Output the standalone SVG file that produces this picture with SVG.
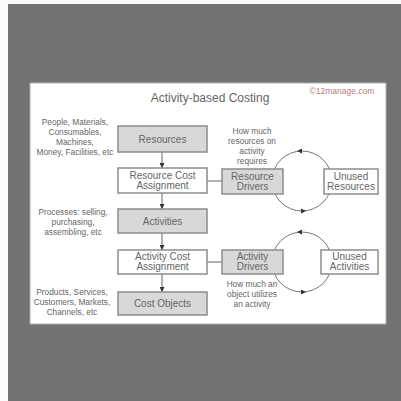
<svg xmlns="http://www.w3.org/2000/svg" width="401" height="401" viewBox="0 0 401 401">
<defs>
<marker id="ah" viewBox="0 0 10 10" refX="10" refY="5" markerWidth="5" markerHeight="5" orient="auto" markerUnits="userSpaceOnUse">
<path d="M0,0 L10,5 L0,10 Z" fill="#333"/>
</marker>
</defs>
<style>
.bg{fill:#737373}
.card{fill:#fff;stroke:#b0b0b0;stroke-width:1}
.gbox{fill:#d8d8d8;stroke:#8c8c8c;stroke-width:1.5}
.wbox{fill:#fff;stroke:#8c8c8c;stroke-width:1.5}
.bt{font-family:"Liberation Sans",Arial,sans-serif;font-size:10px;fill:#666;text-anchor:middle}
.note{font-family:"Liberation Sans",Arial,sans-serif;font-size:8.3px;fill:#666;text-anchor:middle}
.title{font-family:"Liberation Sans",Arial,sans-serif;font-size:12px;fill:#666;text-anchor:middle}
.copy{font-family:"Liberation Sans",Arial,sans-serif;font-size:8.5px;fill:#b88080;text-anchor:middle}
.ln{stroke:#666;stroke-width:1;fill:none}
.cir{stroke:#777;stroke-width:1;fill:none}
.tip{fill:#333}
</style>
<rect width="401" height="401" fill="#fafafa"/>
<rect class="bg" x="8" y="4" width="393" height="397"/>
<rect class="card" x="30" y="83" width="356" height="241"/>
<text class="title" x="210" y="102">Activity-based Costing</text>
<text class="copy" x="342" y="94">©12manage.com</text>

<g id="notes">
<text class="note" x="75" y="125">People, Materials,</text>
<text class="note" x="75" y="135">Consumables,</text>
<text class="note" x="75" y="145">Machines,</text>
<text class="note" x="75" y="155">Money, Facilities, etc</text>
<text class="note" x="73" y="215">Processes: selling,</text>
<text class="note" x="73" y="225">purchasing,</text>
<text class="note" x="73" y="235">assembling, etc</text>
<text class="note" x="72" y="295">Products, Services,</text>
<text class="note" x="72" y="305">Customers, Markets,</text>
<text class="note" x="72" y="315">Channels, etc</text>
<text class="note" x="252" y="134">How much</text>
<text class="note" x="252" y="144">resources on</text>
<text class="note" x="252" y="154">activity</text>
<text class="note" x="252" y="164">requires</text>
<text class="note" x="252" y="287">How much an</text>
<text class="note" x="252" y="297">object utilizes</text>
<text class="note" x="252" y="307">an activity</text>
</g>

<g id="connectors">
<line class="ln" x1="162" y1="152" x2="162" y2="168" marker-end="url(#ah)"/>
<line class="ln" x1="162" y1="193" x2="162" y2="209" marker-end="url(#ah)"/>
<line class="ln" x1="162" y1="233" x2="162" y2="250" marker-end="url(#ah)"/>
<line class="ln" x1="162" y1="274" x2="162" y2="292" marker-end="url(#ah)"/>
<line class="ln" x1="207" y1="181" x2="222" y2="181"/>
<line class="ln" x1="207" y1="262" x2="222" y2="262"/>
<circle class="cir" cx="302" cy="181" r="30"/>
<circle class="cir" cx="302" cy="262" r="30"/>
<polygon class="tip" points="297,151 302,148.5 302,153.5"/>
<polygon class="tip" points="306,211 301,208.5 301,213.5"/>
<polygon class="tip" points="297,232 302,229.5 302,234.5"/>
<polygon class="tip" points="306,292 301,289.5 301,294.5"/>
</g>

<g id="resources"><rect class="gbox" x="118" y="126" width="89" height="26"/><text class="bt" x="162.5" y="143">Resources</text></g>
<g id="resource-cost-assignment"><rect class="wbox" x="118" y="168" width="89" height="25"/><text class="bt" x="162.5" y="178.5">Resource Cost</text><text class="bt" x="162.5" y="188.5">Assignment</text></g>
<g id="activities"><rect class="gbox" x="118" y="209" width="89" height="24"/><text class="bt" x="162.5" y="225">Activities</text></g>
<g id="activity-cost-assignment"><rect class="wbox" x="118" y="250" width="89" height="24"/><text class="bt" x="162.5" y="260">Activity Cost</text><text class="bt" x="162.5" y="270">Assignment</text></g>
<g id="cost-objects"><rect class="gbox" x="118" y="292" width="89" height="23"/><text class="bt" x="162.5" y="307">Cost Objects</text></g>
<g id="resource-drivers"><rect class="gbox" x="222" y="169" width="61" height="25"/><text class="bt" x="252.5" y="179.5">Resource</text><text class="bt" x="252.5" y="189.5">Drivers</text></g>
<g id="unused-resources"><rect class="wbox" x="324" y="169" width="54" height="25"/><text class="bt" x="351" y="179.5">Unused</text><text class="bt" x="351" y="189.5">Resources</text></g>
<g id="activity-drivers"><rect class="gbox" x="222" y="250" width="61" height="24"/><text class="bt" x="252.5" y="260">Activity</text><text class="bt" x="252.5" y="270">Drivers</text></g>
<g id="unused-activities"><rect class="wbox" x="321" y="250" width="57" height="24"/><text class="bt" x="349.5" y="260">Unused</text><text class="bt" x="349.5" y="270">Activities</text></g>
</svg>
